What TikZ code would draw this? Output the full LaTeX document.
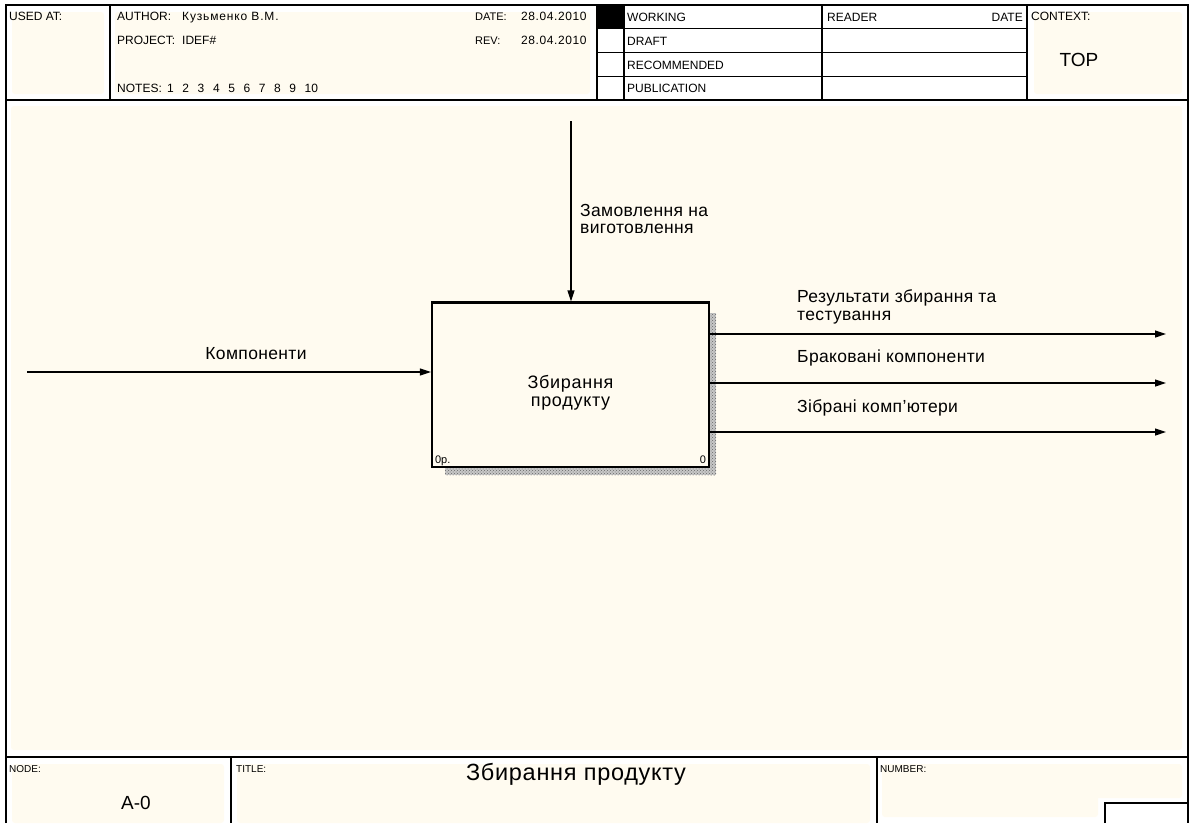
\documentclass[tikz,border=0pt]{standalone}
\usepackage{fontspec}
\setmainfont{Liberation Sans}
\usetikzlibrary{arrows.meta,patterns}
\definecolor{cream}{RGB}{255,251,240}
\newcommand{\fs}[1]{\fontsize{#1}{#1}\selectfont}
\newcommand{\wide}[1]{\addfontfeature{LetterSpace=#1}}
\begin{document}
\begin{tikzpicture}[x=1pt,y=-1pt,
  frame/.style={draw=black,line width=1.3pt},
  hdr/.style={anchor=base west,inner sep=0pt,font=\fs{12}},
  small/.style={anchor=base west,inner sep=0pt,font=\fs{10}},
  lbl/.style={inner sep=0pt,font=\fs{17.5}\wide{2},align=left},
  arr/.style={line width=1.2pt,-{Triangle[length=11pt,width=7pt]}},
  shadow/.style={fill=black!22,postaction={pattern=crosshatch dots,pattern color=black!60}},
  func/.style={draw=black,line width=2.2pt,fill=cream,minimum width=277pt,minimum height=164.5pt,inner sep=0pt}]
\useasboundingbox (0,0) rectangle (1192,823);
\fill[white] (0,0) rectangle (1192,823);

% cream field areas
\fill[cream,rounded corners=3pt] (12,12) rectangle (104,94);
\fill[cream,rounded corners=3pt] (115,12) rectangle (590,94);
\fill[cream,rounded corners=3pt] (1034,12) rectangle (1182,94);
\fill[cream,rounded corners=3pt] (11,106) rectangle (1182,750);
\fill[cream,rounded corners=3pt] (12,764) rectangle (224,823);
\fill[cream,rounded corners=3pt] (237,764) rectangle (870,823);
\fill[cream,rounded corners=3pt] (882,764) rectangle (1182,798);
\fill[cream,rounded corners=3pt] (882,790) rectangle (1098,817);

% outer frame and header grid
\draw[frame] (6,823) -- (6,5) -- (1188,5) -- (1188,823);
\draw[frame] (6,100) -- (1188,100);
\draw[frame] (110,5) -- (110,100);
\draw[frame] (597,5) -- (597,100);
\draw[frame] (624,5) -- (624,100);
\draw[frame] (822,5) -- (822,100);
\draw[frame] (1027,5) -- (1027,100);
\draw[frame] (597,28.75) -- (1027,28.75);
\draw[frame] (597,52.5) -- (1027,52.5);
\draw[frame] (597,76.25) -- (1027,76.25);
\fill[black] (597,5) rectangle (624,28.75);

% footer grid
\draw[frame] (6,757) -- (1188,757);
\draw[frame] (231,757) -- (231,823);
\draw[frame] (877,757) -- (877,823);
\draw[frame] (1105,823) -- (1105,803) -- (1188,803);

% header texts
\node[hdr] (usedat) at (9,20) {USED AT:};
\node[hdr] (author) at (117,20) {AUTHOR:};
\node[hdr,font=\fs{12}\wide{7}] (authorv) at (182,20) {Кузьменко В.М.};
\node[hdr] (project) at (117,44) {PROJECT:};
\node[hdr] (projectv) at (182,44) {IDEF\#};
\node[hdr] (notes) at (117,92) {NOTES:};
\node[hdr] (notesv) at (167,92) {1\hspace{8.6pt}2\hspace{8.6pt}3\hspace{8.6pt}4\hspace{8.6pt}5\hspace{8.6pt}6\hspace{8.6pt}7\hspace{8.6pt}8\hspace{8.6pt}9\hspace{8.6pt}10};
\node[hdr,font=\fs{11}] (date) at (475,20) {DATE:};
\node[hdr,font=\fs{12}\wide{5}] (datev) at (521,20) {28.04.2010};
\node[hdr,font=\fs{11}] (rev) at (475,44) {REV:};
\node[hdr,font=\fs{12}\wide{5}] (revv) at (521,44) {28.04.2010};
\node[hdr] (working) at (627,21) {WORKING};
\node[hdr] (draft) at (627,45) {DRAFT};
\node[hdr] (recom) at (627,69) {RECOMMENDED};
\node[hdr] (publ) at (627,92) {PUBLICATION};
\node[hdr] (reader) at (827,21) {READER};
\node[hdr,anchor=base east] (rdate) at (1023,21) {DATE};
\node[hdr] (context) at (1031,20) {CONTEXT:};
\node[inner sep=0pt,font=\fs{19}] (top) at (1079,60) {TOP};

% footer texts
\node[small] (nodelbl) at (9,772) {NODE:};
\node[inner sep=0pt,font=\fs{19}] (nodev) at (136,803) {A-0};
\node[small] (titlelbl) at (236,772) {TITLE:};
\node[inner sep=0pt,font=\fs{23.5}\wide{3}] (titlev) at (576,774) {Збирання продукту};
\node[small] (numlbl) at (880,772) {NUMBER:};

% activity box with hatched shadow
\fill[shadow] (709,313) rectangle (716,475);
\fill[shadow] (445,467) rectangle (716,475);
\node[func] (box) at (570.5,384.75) {};
\node[lbl,align=center,font=\fs{18}\wide{4}] (boxtxt) at ([yshift=-8]box.center) {\baselineskip=22pt Збирання\\продукту};
\node[small,font=\fs{11}] (boxnum) at ([shift={(4,-5)}]box.south west) {0р.};
\node[small,font=\fs{11},anchor=base east] (boxid) at ([shift={(-4,-5)}]box.south east) {0};

% connectors
\coordinate (ctrl) at (571,121);
\coordinate (inp) at (27,372);
\coordinate (out1) at (1166,334);
\coordinate (out2) at (1166,383);
\coordinate (out3) at (1166,432);
\draw[arr] (ctrl) -- (ctrl |- box.north);
\draw[arr] (inp) -- (inp -| box.west);
\draw[arr] (out1 -| box.east) -- (out1);
\draw[arr] (out2 -| box.east) -- (out2);
\draw[arr] (out3 -| box.east) -- (out3);

% connector labels
\node[lbl] (inlbl) at (256,354) {Компоненти};
\node[lbl,anchor=west] (ordlbl) at (580,219) {\baselineskip=18.5pt Замовлення на\\виготовлення};
\node[lbl,anchor=west] (o1lbl) at (797,307) {\baselineskip=19.5pt Результати збирання та\\тестування};
\node[lbl,anchor=west] (o2lbl) at (797,358) {Браковані компоненти};
\node[lbl,anchor=west] (o3lbl) at (797,408) {Зібрані комп'ютери};
\end{tikzpicture}
\end{document}
